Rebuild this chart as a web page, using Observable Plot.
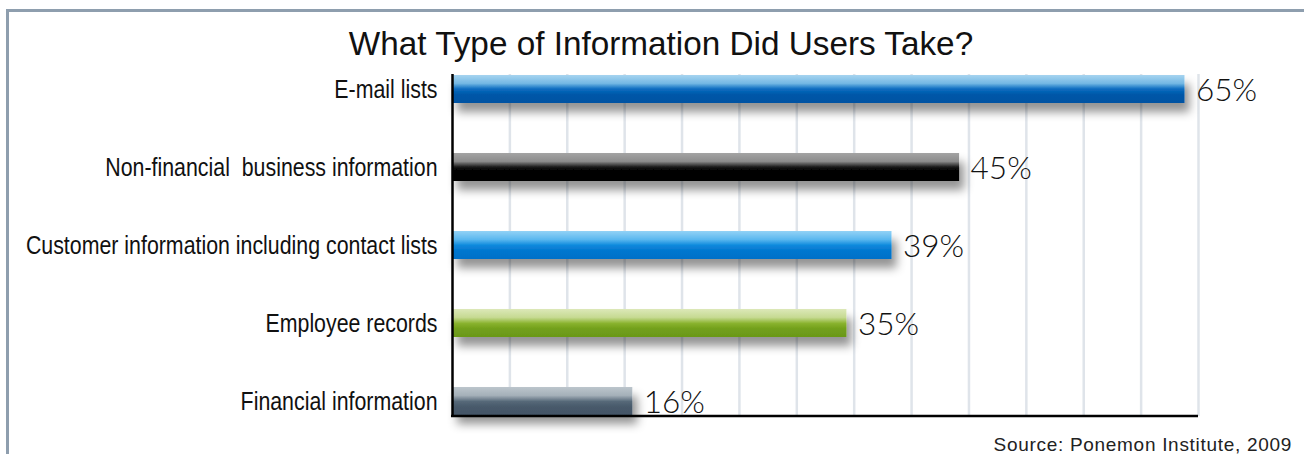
<!DOCTYPE html>
<html><head><meta charset="utf-8">
<script src="https://cdn.jsdelivr.net/npm/d3@7"></script>
<script src="https://cdn.jsdelivr.net/npm/@observablehq/plot@0.6"></script>
<style>
html,body{margin:0;padding:0;background:#fff;}
#wrap{position:relative;width:1304px;height:454px;overflow:hidden;}
#frame{position:absolute;left:6px;top:9px;width:1400px;height:500px;border-top:3px solid #8e9eae;border-left:3px solid #8e9eae;box-sizing:border-box;}
#title{position:absolute;left:0;width:1322px;top:27px;text-align:center;font:33.3px/33px "Liberation Sans",Arial,sans-serif;color:#111;white-space:nowrap;}
#source{position:absolute;right:12px;top:435px;font:19px/19px "Liberation Sans",Arial,sans-serif;letter-spacing:0.7px;color:#222;white-space:nowrap;}
#chart{position:absolute;left:0;top:0;}
</style>
</head><body>
<div id="wrap">
  <div id="frame"></div>
  <div id="chart"></div>
  <div id="title">What Type of Information Did Users Take?</div>
  <div id="source">Source: Ponemon Institute, 2009</div>
</div>
<script>
// ---- data ----
const categories = [
  "E-mail lists",
  "Non-financial  business information",
  "Customer information including contact lists",
  "Employee records",
  "Financial information"
];
const values = [65, 45, 39, 35, 16];
const valueLabels = ["65%", "45%", "39%", "35%", "16%"];

// ---- styles (gradient stops per bar, top -> bottom) ----
const barGradients = [
  [["0", "#a6d4f0"], ["0.3", "#74b8e4"], ["0.5", "#0a6cc0"], ["0.7", "#0057a8"], ["1", "#0052a2"]],
  [["0", "#a4a4a4"], ["0.3", "#8c8c8c"], ["0.5", "#1a1a1a"], ["0.62", "#000"], ["1", "#000"]],
  [["0", "#92d2f6"], ["0.3", "#5bb8ef"], ["0.52", "#0a88dc"], ["0.7", "#0577cf"], ["1", "#0070c8"]],
  [["0", "#dce8b8"], ["0.3", "#c6da92"], ["0.52", "#88b22c"], ["0.7", "#72a01c"], ["1", "#6a9818"]],
  [["0", "#bcc5cc"], ["0.3", "#a5b0b9"], ["0.52", "#566878"], ["0.7", "#485a6b"], ["1", "#435566"]]
];

const data = categories.map((c, i) => ({
  category: c, value: values[i], label: valueLabels[i], fill: `url(#barGrad${i})`
}));

const xMax = 66.2;
const gridTicks = d3.range(1, 14).map(i => i * xMax / 13);

const W = 1304, H = 454;
const mL = 452, mR = 106, mT = 74, mB = 38;

const plot = Plot.plot({
  width: W, height: H,
  marginLeft: mL, marginRight: mR, marginTop: mT, marginBottom: mB,
  style: {background: "transparent", overflow: "visible"},
  x: {domain: [0, xMax], axis: null},
  y: {domain: categories, paddingInner: 0.643, paddingOuter: 0, tickSize: 0, tickPadding: 15, label: null},
  color: {type: "identity"},
  marks: [
    Plot.ruleX(gridTicks, {stroke: "#dfe4ea", strokeWidth: 2.5}),
    Plot.barX(data, {y: "category", x: "value", fill: "fill"}),
    Plot.ruleX([0], {stroke: "#000", strokeWidth: 2.5}),
    Plot.text(data, {y: "category", x: "value", text: "label", textAnchor: "start", dx: 11, dy: 1,
      fontSize: 31.5, fill: "#111", fontFamily: "Lato, 'DejaVu Sans', sans-serif", fontWeight: 300})
  ]
});

const svg = d3.select(plot);
const defs = svg.insert("defs", ":first-child");
barGradients.forEach((stops, i) => {
  const g = defs.append("linearGradient").attr("id", `barGrad${i}`)
    .attr("x1", 0).attr("y1", 0).attr("x2", 0).attr("y2", 1);
  stops.forEach(([o, c]) => g.append("stop").attr("offset", o).attr("stop-color", c));
});
const f = defs.append("filter").attr("id", "barShadow")
  .attr("x", "-5%").attr("y", "-50%").attr("width", "115%").attr("height", "250%");
f.append("feDropShadow").attr("dx", 5).attr("dy", 9).attr("stdDeviation", 5)
  .attr("flood-color", "#000").attr("flood-opacity", 0.42);

svg.selectAll("g[aria-label='bar'] rect").attr("filter", "url(#barShadow)");

// bottom axis line from the x scale range
const xr = plot.scale("x").range;
svg.append("line")
  .attr("x1", xr[0] - 1).attr("x2", xr[1])
  .attr("y1", H - mB).attr("y2", H - mB)
  .attr("stroke", "#000").attr("stroke-width", 2.5);

const yLabels = svg.selectAll("g[aria-label^='y-axis'] text")
  .style("font-family", "'Liberation Sans', Arial, sans-serif")
  .style("font-size", "25.5px")
  .style("fill", "#111")
  .style("white-space", "pre");

document.getElementById("chart").appendChild(plot);

// condense the category labels (narrow face is not installed)
yLabels.each(function() {
  const len = this.getComputedTextLength();
  this.setAttribute("textLength", (len * 0.837).toFixed(1));
  this.setAttribute("lengthAdjust", "spacingAndGlyphs");
});
</script>
</body></html>
